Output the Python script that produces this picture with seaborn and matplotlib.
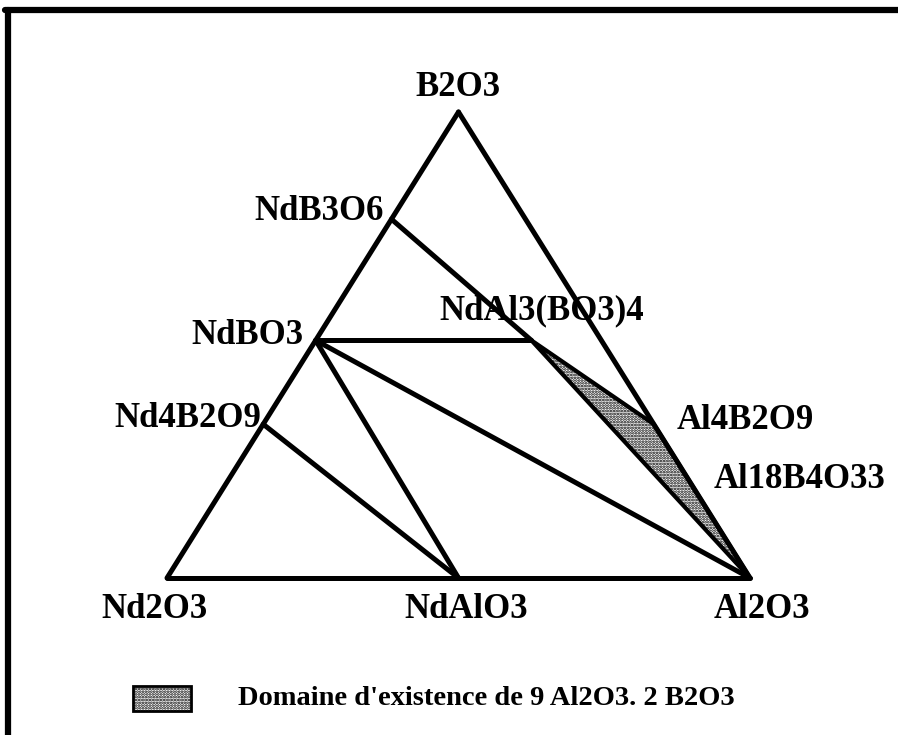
"""
Diagramme ternaire Nd2O3 - Al2O3 - B2O3 (seaborn / matplotlib).
"""
import numpy as np
import pandas as pd
import matplotlib
matplotlib.use("Agg")
import matplotlib.pyplot as plt
import seaborn as sns
from matplotlib.lines import Line2D
from matplotlib.patches import Rectangle

# ---- composition des phases (fraction Al2O3, fraction B2O3) ----
phases = ["Nd2O3", "NdAlO3", "Al2O3", "B2O3", "NdB3O6", "NdBO3", "Nd4B2O9",
          "NdAl3(BO3)4", "Al4B2O9", "Al18B4O33"]
frac_al = [0.0, 0.5, 1.0, 0.0, 0.0, 0.0, 0.0, 0.37, 0.67, 0.82]
frac_b = [0.0, 0.0, 0.0, 1.0, 0.77, 0.51, 0.33, 0.51, 0.33, 0.18]

# côtés du triangle + lignes de conodes
tie_lines = [
    ("Nd2O3", "Al2O3"), ("Al2O3", "B2O3"), ("B2O3", "Nd2O3"),
    ("NdB3O6", "NdAl3(BO3)4"), ("NdBO3", "NdAl3(BO3)4"),
    ("NdBO3", "Al2O3"), ("NdBO3", "NdAlO3"), ("Nd4B2O9", "NdAlO3"),
]

# domaine de la solution solide 9 Al2O3.2 B2O3
domain = ["NdAl3(BO3)4", "Al4B2O9", "Al18B4O33", "Al2O3"]

# étiquettes : (phase, décalage en pixels, alignement horizontal)
labels = [
    ("B2O3", (0, 24), "center"),
    ("NdB3O6", (-8, 8), "right"),
    ("NdBO3", (-12, 5), "right"),
    ("Nd4B2O9", (-2, 6), "right"),
    ("Nd2O3", (-12, -32), "center"),
    ("NdAlO3", (8, -32), "center"),
    ("Al2O3", (12, -32), "center"),
    ("NdAl3(BO3)4", (10, 30), "center"),
    ("Al4B2O9", (23, 4), "left"),
    ("Al18B4O33", (16, 15), "left"),
]
legend_text = "Domaine d'existence de 9 Al2O3. 2 B2O3"

sns.set_theme(style="white")
plt.rcParams["font.family"] = ["Liberation Serif", "DejaVu Serif"]
plt.rcParams["font.weight"] = "bold"
plt.rcParams["text.color"] = "black"
plt.rcParams["hatch.linewidth"] = 1.3

# coordonnées cartésiennes du triangle
df = pd.DataFrame({"phase": phases, "al": frac_al, "b": frac_b})
df["x"] = df["al"] + df["b"] / 2
df["y"] = df["b"]
pos = df.set_index("phase")[["x", "y"]]

seg = pd.DataFrame(
    [{"seg": i, "x": pos.loc[p, "x"], "y": pos.loc[p, "y"]}
     for i, pair in enumerate(tie_lines) for p in pair]
)

fig = plt.figure(figsize=(8.98, 7.35), dpi=100)
ax = fig.add_axes([0, 0, 1, 1])

# domaine hachuré
ax.fill(pos.loc[domain, "x"], pos.loc[domain, "y"], facecolor="white",
        hatch="......", edgecolor="black", lw=3, zorder=2)

sns.lineplot(data=seg, x="x", y="y", units="seg", estimator=None, sort=False,
             color="black", lw=3.6, ax=ax, zorder=3)

for name, (dx, dy), ha in labels:
    ax.annotate(name, (pos.loc[name, "x"], pos.loc[name, "y"]),
                xytext=(dx, dy), textcoords="offset pixels", color="black",
                ha=ha, va="center", fontsize=25, fontweight="bold", zorder=4)

ax.set_xlim(-167 / 583, (898 - 167) / 583)
ax.set_ylim((578 - 735) / 466, 578 / 466)
ax.set_axis_off()

# légende
fig.patches.append(Rectangle((0.148, 0.033), 0.065, 0.034, transform=fig.transFigure,
                             facecolor="white", hatch="......", edgecolor="black", lw=2))
fig.text(0.265, 0.049, legend_text, ha="left", va="center", fontsize=20.5,
         fontweight="bold", color="black")

# cadre (haut et gauche)
fig.add_artist(Line2D([0.009, 0.009], [0, 0.987], transform=fig.transFigure,
                      color="black", lw=4.5))
fig.add_artist(Line2D([0.006, 1], [0.987, 0.987], transform=fig.transFigure,
                      color="black", lw=4.5))

fig.savefig("out.png", dpi=100)
